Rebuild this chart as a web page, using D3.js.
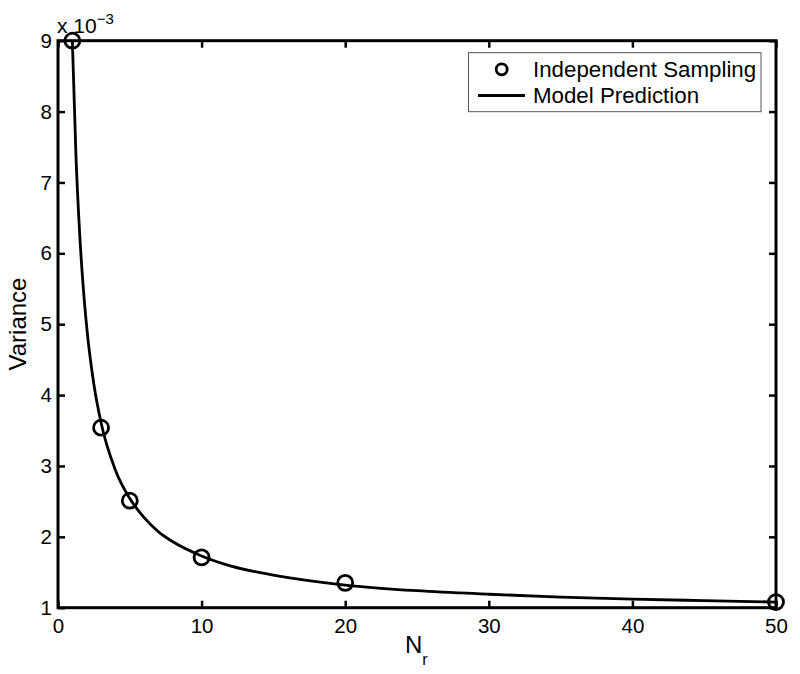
<!DOCTYPE html>
<html>
<head>
<meta charset="utf-8">
<script src="https://cdn.jsdelivr.net/npm/d3@7"></script>
<style>
  body { margin: 0; background: #fff; }
  text { font-family: "Liberation Sans", Arial, sans-serif; fill: #000; }
</style>
</head>
<body>
<div id="chart"></div>
<script>
// values in units of 1e-3
const sampleN = [1, 3, 5, 10, 20, 50];
const sampleVar = [9.0, 3.54, 2.51, 1.71, 1.35, 1.08];

const modelN = [1, 1.25, 1.5, 1.75, 2, 2.5, 3, 4, 5, 6, 7, 8, 10, 12, 15, 20, 25, 30, 35, 40, 45, 50];
const modelVar = [9.0, 7.38, 6.31, 5.54, 4.96, 4.15, 3.61, 2.94, 2.54, 2.27, 2.07, 1.93, 1.73, 1.59, 1.46, 1.32, 1.24, 1.19, 1.15, 1.12, 1.10, 1.08];

const xTicks = [0, 10, 20, 30, 40, 50];
const yTicks = [1, 2, 3, 4, 5, 6, 7, 8, 9];

const width = 800;
const height = 674;
const plotL = 58, plotR = 776, plotT = 40.7, plotB = 607.7;

const x = d3.scaleLinear().domain([0, 50]).range([plotL, plotR]);
const y = d3.scaleLinear().domain([1, 9]).range([plotB, plotT]);

const svg = d3.select("#chart")
    .append("svg")
    .attr("width", width)
    .attr("height", height);

svg.append("rect")
    .attr("width", width)
    .attr("height", height)
    .attr("fill", "#fff");

// curve
const line = d3.line()
    .x((d, i) => x(modelN[i]))
    .y(d => y(d))
    .curve(d3.curveMonotoneX);

svg.append("path")
    .datum(modelVar)
    .attr("d", line)
    .attr("fill", "none")
    .attr("stroke", "#000")
    .attr("stroke-width", 2.8);

// sample markers
svg.append("g")
    .selectAll("circle")
    .data(sampleVar)
    .enter()
    .append("circle")
    .attr("cx", (d, i) => x(sampleN[i]))
    .attr("cy", d => y(d))
    .attr("r", 7.5)
    .attr("fill", "none")
    .attr("stroke", "#000")
    .attr("stroke-width", 2.8);

// axes with inward ticks on all four sides
const tick = 7;
const axB = svg.append("g")
    .attr("transform", `translate(0,${plotB})`)
    .call(d3.axisBottom(x).tickValues(xTicks).tickSizeInner(-tick).tickSizeOuter(0).tickPadding(11));
const axT = svg.append("g")
    .attr("transform", `translate(0,${plotT})`)
    .call(d3.axisTop(x).tickValues(xTicks).tickSizeInner(-tick).tickSizeOuter(0).tickFormat(""));
const axL = svg.append("g")
    .attr("transform", `translate(${plotL},0)`)
    .call(d3.axisLeft(y).tickValues(yTicks).tickSizeInner(-tick).tickSizeOuter(0).tickPadding(6));
const axR = svg.append("g")
    .attr("transform", `translate(${plotR},0)`)
    .call(d3.axisRight(y).tickValues(yTicks).tickSizeInner(-tick).tickSizeOuter(0).tickFormat(""));

[axB, axT, axL, axR].forEach(g => {
    g.select(".domain").remove();
    g.selectAll("line").attr("stroke", "#000").attr("stroke-width", 2.5);
    g.selectAll("text")
        .style("font-family", "'Liberation Sans', Arial, sans-serif")
        .style("font-size", "20.5px")
        .attr("fill", "#000");
});
axB.selectAll("text").attr("dy", "0.71em");

svg.append("rect")
    .attr("x", plotL)
    .attr("y", plotT)
    .attr("width", plotR - plotL)
    .attr("height", plotB - plotT)
    .attr("fill", "none")
    .attr("stroke", "#000")
    .attr("stroke-width", 3);

// exponent label
const expo = svg.append("text")
    .attr("x", 57)
    .attr("y", 33)
    .style("font-size", "21px");
expo.append("tspan").text("x 10");
expo.append("tspan").attr("dy", -9).style("font-size", "15px").text("\u22123");

// axis titles
svg.append("text")
    .attr("transform", "translate(26,324) rotate(-90)")
    .attr("text-anchor", "middle")
    .style("font-size", "24px")
    .text("Variance");

const xt = svg.append("text")
    .attr("x", 405)
    .attr("y", 653)
    .style("font-size", "24px");
xt.append("tspan").text("N");
xt.append("tspan").attr("dy", 12).style("font-size", "16px").text("r");

// legend
const legend = svg.append("g");
legend.append("rect")
    .attr("x", 468.5)
    .attr("y", 52.7)
    .attr("width", 292.5)
    .attr("height", 59)
    .attr("fill", "#fff")
    .attr("stroke", "#555")
    .attr("stroke-width", 1);
legend.append("circle")
    .attr("cx", 501.7)
    .attr("cy", 69.3)
    .attr("r", 5.5)
    .attr("fill", "none")
    .attr("stroke", "#000")
    .attr("stroke-width", 2.8);
legend.append("line")
    .attr("x1", 478)
    .attr("x2", 525)
    .attr("y1", 95.5)
    .attr("y2", 95.5)
    .attr("stroke", "#000")
    .attr("stroke-width", 2.8);
legend.append("text")
    .attr("x", 533)
    .attr("y", 77)
    .style("font-size", "22.3px")
    .text("Independent Sampling");
legend.append("text")
    .attr("x", 533)
    .attr("y", 103)
    .style("font-size", "22.3px")
    .text("Model Prediction");
</script>
</body>
</html>
